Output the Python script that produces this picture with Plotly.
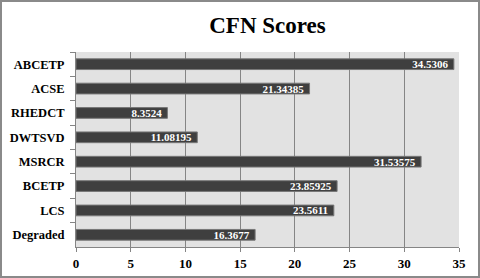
import plotly.graph_objects as go

categories = ["ABCETP", "ACSE", "RHEDCT", "DWTSVD", "MSRCR", "BCETP", "LCS", "Degraded"]
scores = [34.5306, 21.34385, 8.3524, 11.08195, 31.53575, 23.85925, 23.5611, 16.3677]
labels = ["34.5306", "21.34385", "8.3524", "11.08195", "31.53575", "23.85925", "23.5611", "16.3677"]

font_family = "Liberation Serif"

L, R, T, B = 76, 21, 52, 31
W, H = 480, 278
pw, ph = W - L - R, H - T - B

fig = go.Figure(go.Bar(
    y=categories, x=scores, orientation="h",
    text=labels, textposition="inside", insidetextanchor="end",
    texttemplate="<b>%{text}</b>&nbsp;",
    textfont=dict(family=font_family, size=11, color="white"),
    marker=dict(color="#3f3f3f", line=dict(color="#777777", width=1)),
))

fig.update_layout(
    width=W, height=H,
    margin=dict(l=L, r=R, t=T, b=B, autoexpand=False),
    paper_bgcolor="white", plot_bgcolor="#e2e2e2",
    font=dict(family=font_family),
    title=dict(text="<b>CFN Scores</b>", x=0.5, xanchor="center", xref="paper",
               y=1 - 25 / H, yanchor="middle",
               font=dict(family=font_family, size=23, color="black")),
    bargap=0.56,
    showlegend=False,
    uniformtext=dict(minsize=8, mode="show"),
    shapes=[dict(type="rect", xref="paper", yref="paper",
                 x0=(1 - L) / pw, x1=(W - 1 - L) / pw,
                 y0=-(H - 1 - (H - B)) / ph, y1=1 + (T - 1) / ph,
                 line=dict(color="#8a8a8a", width=2), fillcolor="rgba(0,0,0,0)", layer="below")],
)
fig.update_xaxes(range=[0, 35], dtick=5, showgrid=True, gridcolor="#858585", gridwidth=1,
                 showline=True, linecolor="#858585", ticks="outside", ticklen=4, tickcolor="#858585",
                 tickfont=dict(family=font_family, size=13, color="black"), zeroline=False,
                 tickprefix="<b>", ticksuffix="</b>", automargin=False)
fig.update_yaxes(autorange="reversed", showline=True, linecolor="#858585", ticks="outside",
                 tickson="boundaries", ticklen=5, tickcolor="#858585", showgrid=False,
                 tickfont=dict(family=font_family, size=12.5, color="black"),
                 tickprefix="<b>", ticksuffix="</b>", ticklabelstandoff=8, automargin=False)

fig.write_html("out.html", config={"displayModeBar": False},
               post_script="document.body.style.margin='0';document.body.style.overflow='hidden';")
